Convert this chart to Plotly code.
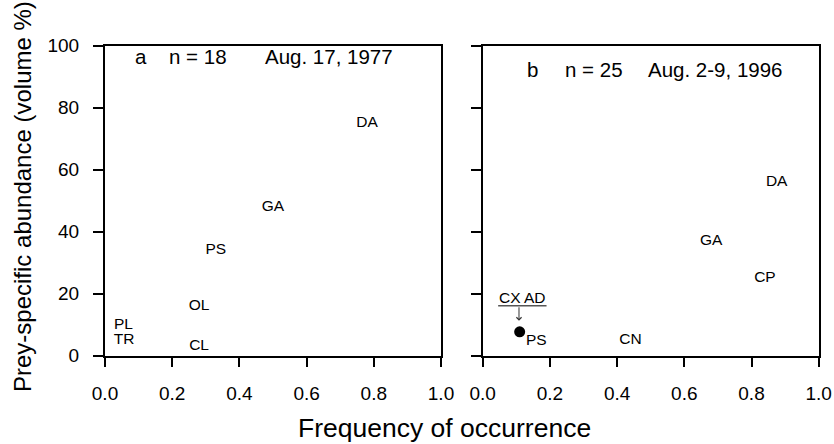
import plotly.graph_objects as go

# ---- data ----
labels_a = ["DA", "GA", "PS", "OL", "PL", "TR", "CL"]
freq_a = [0.78, 0.50, 0.33, 0.28, 0.055, 0.057, 0.28]
abund_a = [75, 48, 34, 16, 10, 5, 3]

labels_b = ["DA", "GA", "CP", "CN"]
freq_b = [0.875, 0.68, 0.84, 0.44]
abund_b = [56, 37, 25, 5]

# overlapping prey in panel b (shown as a dot)
dot_labels_b = ["PS", "CX", "AD"]
dot_freq_b = [0.11, 0.11, 0.11]
dot_abund_b = [7.7, 7.7, 7.7]

x_ticks = [0.0, 0.2, 0.4, 0.6, 0.8, 1.0]
y_ticks = [0, 20, 40, 60, 80, 100]

panel_a_header = ["a", "n = 18", "Aug. 17, 1977"]
panel_b_header = ["b", "n = 25", "Aug. 2-9, 1996"]

FONT = "Liberation Sans, Arial, Helvetica, sans-serif"

fig = go.Figure()

fig.add_trace(go.Scatter(x=freq_a, y=abund_a, text=labels_a, mode="text",
                         textfont=dict(family=FONT, size=15.5, color="black"),
                         xaxis="x", yaxis="y3", showlegend=False, hoverinfo="skip"))
fig.add_trace(go.Scatter(x=freq_b, y=abund_b, text=labels_b, mode="text",
                         textfont=dict(family=FONT, size=15.5, color="black"),
                         xaxis="x2", yaxis="y2", showlegend=False, hoverinfo="skip"))
fig.add_trace(go.Scatter(x=dot_freq_b[:1], y=dot_abund_b[:1], mode="markers",
                         marker=dict(size=11, color="black"),
                         xaxis="x2", yaxis="y2", showlegend=False, hoverinfo="skip"))

axis_common = dict(
    showgrid=False, zeroline=False, showline=True, linecolor="black", linewidth=1.5,
    mirror=True, ticks="outside", ticklen=10, tickwidth=1.5, tickcolor="black",
    automargin=False,
    tickfont=dict(family=FONT, size=19, color="black"),
)

YDOM = [88.3 / 444, 398.3 / 444]

fig.update_layout(
    template="none",
    width=834, height=444,
    margin=dict(l=0, r=0, t=0, b=0, pad=0),
    paper_bgcolor="white", plot_bgcolor="white",
    xaxis=dict(domain=[105 / 834, 441 / 834], range=[0, 1], tickvals=x_ticks,
               tickformat=".1f", ticklabelstandoff=10, anchor="y", **axis_common),
    yaxis=dict(domain=YDOM, range=[0, 100], tickvals=y_ticks,
               showticklabels=False, anchor="x", **axis_common),
    # label-only overlay axis so the tick labels sit further from the axis line
    yaxis3=dict(overlaying="y", anchor="x", side="left", range=[0, 100],
                tickvals=y_ticks, showgrid=False, zeroline=False, showline=False,
                ticks="outside", ticklen=21, tickcolor="rgba(0,0,0,0)",
                automargin=False,
                tickfont=dict(family=FONT, size=19, color="black")),
    xaxis2=dict(domain=[482.7 / 834, 818.7 / 834], range=[0, 1], tickvals=x_ticks,
                tickformat=".1f", ticklabelstandoff=10, anchor="y2", **axis_common),
    yaxis2=dict(domain=YDOM, range=[0, 100], tickvals=y_ticks,
                showticklabels=False, anchor="x2", **axis_common),
)

ann = []
# headers
for txt, xp in zip(panel_a_header, [0.084, 0.184, 0.47]):
    ann.append(dict(x=xp, y=96.4, xref="x", yref="y", text=txt, showarrow=False,
                    xanchor="left", yanchor="middle",
                    font=dict(family=FONT, size=20.5, color="black")))
for txt, xp in zip(panel_b_header, [0.127, 0.238, 0.486]):
    ann.append(dict(x=xp, y=92.2, xref="x2", yref="y2", text=txt, showarrow=False,
                    xanchor="left", yanchor="middle",
                    font=dict(family=FONT, size=20.5, color="black")))

# PS label beside the dot
ann.append(dict(x=dot_freq_b[0], y=dot_abund_b[0], xref="x2", yref="y2",
                text=dot_labels_b[0], showarrow=False, xshift=17, yshift=-8,
                xanchor="center", yanchor="middle",
                font=dict(family=FONT, size=15.5, color="black")))
# CX AD label with arrow to the dot
ann.append(dict(x=dot_freq_b[1] + 0.007, y=dot_abund_b[1] + 11.1, xref="x2", yref="y2",
                text=" ".join(dot_labels_b[1:]), showarrow=False,
                xanchor="center", yanchor="middle",
                font=dict(family=FONT, size=15.5, color="black")))
ann.append(dict(x=dot_freq_b[1] - 0.002, y=dot_abund_b[1] + 3.6, xref="x2", yref="y2",
                ax=dot_freq_b[1] - 0.002, ay=dot_abund_b[1] + 8.4, axref="x2", ayref="y2",
                text="", showarrow=True, arrowhead=4, arrowsize=1, arrowwidth=1,
                arrowcolor="#333"))

# axis titles
ann.append(dict(x=444 / 834, y=(444 - 428) / 444, xref="paper", yref="paper",
                text="Frequency of occurrence", showarrow=False,
                xanchor="center", yanchor="middle",
                font=dict(family=FONT, size=26.5, color="black")))
ann.append(dict(x=22 / 834, y=(444 - 197) / 444, xref="paper", yref="paper",
                text="Prey-specific abundance (volume %)", showarrow=False, textangle=-90,
                xanchor="center", yanchor="middle",
                font=dict(family=FONT, size=24, color="black")))

fig.update_layout(annotations=ann)

fig.add_shape(type="line", xref="x2", yref="y2",
              x0=dot_freq_b[1] - 0.064, x1=dot_freq_b[1] + 0.08,
              y0=dot_abund_b[1] + 8.4, y1=dot_abund_b[1] + 8.4,
              line=dict(color="#555", width=1.5))

fig.write_html("out.html")
